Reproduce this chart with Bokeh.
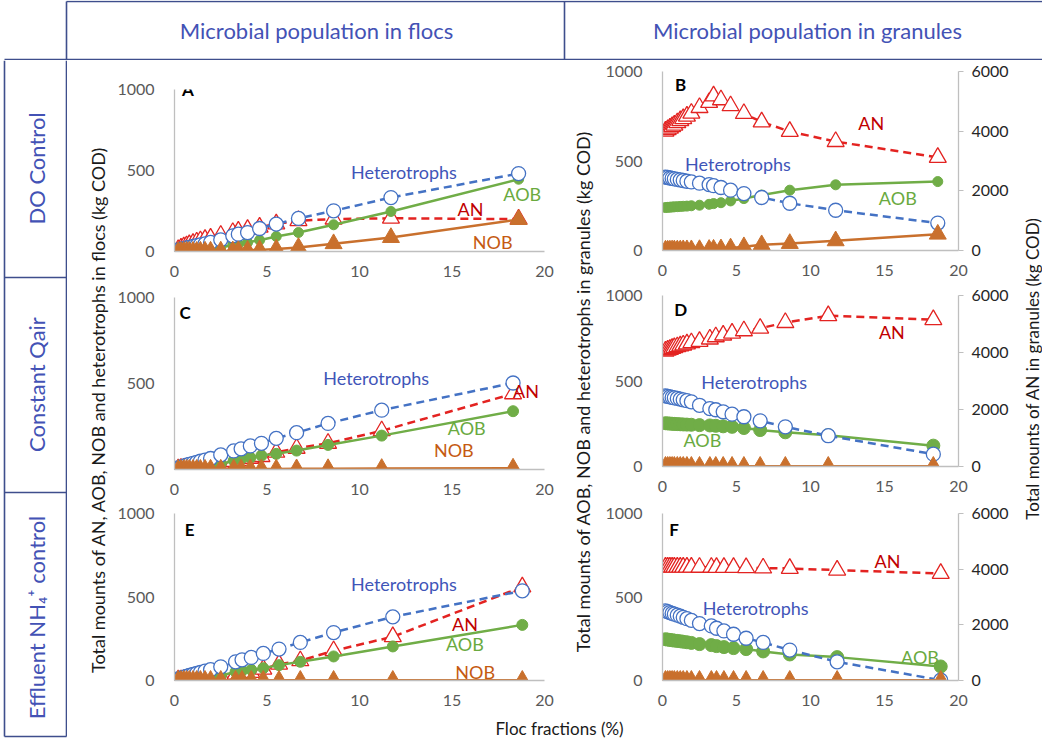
import math
from bokeh.plotting import figure
from bokeh.models import Range1d, LinearAxis, FixedTicker, Label
from bokeh.layouts import row, column
from bokeh.embed import file_html
from bokeh.resources import INLINE

# ---------------- data ----------------
x_do = [0.2, 0.35, 0.5, 0.65, 0.8, 1.0, 1.2, 1.4, 1.65, 1.95, 2.5, 3.15, 3.45, 3.95, 4.6, 5.5, 6.7, 8.6, 11.7, 18.6]
x_qa = [0.2, 0.35, 0.5, 0.65, 0.8, 1.0, 1.2, 1.4, 1.65, 1.95, 2.5, 3.2, 3.6, 4.1, 4.7, 5.5, 6.6, 8.3, 11.2, 18.3]
x_ef = [0.2, 0.35, 0.5, 0.65, 0.8, 1.0, 1.2, 1.4, 1.65, 1.95, 2.5, 3.3, 3.65, 4.15, 4.8, 5.65, 6.8, 8.6, 11.8, 18.8]

# A: flocs, DO control
het_floc_do = [10, 14, 18, 22, 26, 31, 36, 41, 47, 56, 72, 97, 107, 117, 142, 169, 204, 251, 333, 481]
aob_floc_do = [1, 2, 3, 4, 5, 6, 8, 10, 13, 17, 25, 40, 45, 56, 70, 93, 117, 165, 247, 446]
an_floc_do = [12, 20, 28, 35, 42, 50, 58, 66, 74, 82, 100, 117, 125, 136, 150, 170, 190, 200, 205, 200]
nob_floc_do = [0, 0, 1, 1, 1, 1, 1, 2, 2, 2, 3, 4, 5, 7, 10, 15, 25, 48, 86, 197]
# B: granules, DO control (AN on secondary axis)
het_gran_do = [410, 408, 405, 403, 400, 397, 394, 391, 387, 383, 376, 368, 362, 352, 337, 318, 296, 264, 225, 153]
aob_gran_do = [240, 241, 242, 243, 244, 245, 246, 247, 248, 250, 253, 258, 262, 267, 277, 290, 310, 337, 367, 385]
an_gran_do = [4000, 4050, 4100, 4150, 4200, 4280, 4350, 4420, 4500, 4600, 4790, 4960, 5180, 5050, 4850, 4590, 4310, 3990, 3650, 3120]
nob_gran_do = [2, 2, 2, 3, 3, 3, 3, 4, 4, 4, 5, 6, 7, 9, 14, 21, 32, 39, 54, 91]
# C: flocs, constant Qair
het_floc_qa = [10, 15, 20, 25, 30, 36, 42, 48, 55, 64, 85, 108, 120, 137, 152, 181, 214, 268, 345, 503]
aob_floc_qa = [2, 3, 4, 5, 6, 8, 10, 12, 15, 20, 31, 52, 61, 69, 81, 91, 110, 143, 197, 339]
an_floc_qa = [4, 6, 8, 10, 12, 14, 17, 20, 24, 28, 37, 46, 52, 65, 75, 100, 123, 152, 225, 440]
nob_floc_qa = [0, 0, 1, 1, 1, 1, 1, 1, 1, 2, 2, 2, 2, 3, 3, 3, 4, 5, 6, 8]
# D: granules, constant Qair
het_gran_qa = [413, 410, 407, 404, 401, 398, 394, 390, 385, 378, 358, 339, 332, 320, 306, 291, 267, 232, 180, 72]
aob_gran_qa = [253, 252, 251, 250, 249, 248, 247, 246, 245, 244, 242, 240, 238, 235, 232, 225, 213, 200, 183, 122]
an_gran_qa = [4050, 4080, 4110, 4140, 4170, 4200, 4230, 4260, 4300, 4340, 4390, 4470, 4550, 4610, 4680, 4760, 4850, 5050, 5290, 5150]
nob_gran_qa = [1, 1, 1, 1, 1, 1, 1, 1, 1, 1, 1, 1, 1, 1, 1, 1, 1, 1, 1, 1]
# E: flocs, effluent NH4+ control
het_floc_ef = [10, 15, 20, 25, 30, 36, 42, 48, 56, 65, 82, 112, 124, 138, 162, 188, 228, 287, 381, 537]
aob_floc_ef = [2, 3, 4, 5, 6, 8, 10, 12, 14, 18, 28, 52, 58, 64, 74, 92, 112, 144, 204, 333]
an_floc_ef = [3, 4, 5, 6, 8, 10, 12, 14, 17, 20, 28, 38, 44, 48, 68, 98, 118, 178, 262, 560]
nob_floc_ef = [1, 1, 1, 1, 1, 1, 1, 1, 1, 1, 1, 1, 1, 1, 1, 1, 1, 1, 1, 1]
# F: granules, effluent NH4+ control
het_gran_ef = [417, 412, 407, 402, 397, 391, 385, 378, 370, 360, 341, 327, 313, 297, 277, 253, 228, 182, 112, 2]
aob_gran_ef = [247, 245, 243, 241, 239, 237, 235, 232, 229, 225, 218, 212, 206, 200, 194, 188, 174, 156, 140, 84]
an_gran_ef = [4070, 4070, 4070, 4070, 4070, 4070, 4070, 4070, 4070, 4070, 4065, 4065, 4060, 4060, 4060, 4055, 4040, 4025, 3965, 3845]
nob_gran_ef = [1, 1, 1, 1, 1, 1, 1, 1, 1, 1, 1, 1, 1, 1, 1, 1, 1, 1, 1, 1]

x_ticks = [0, 5, 10, 15, 20]
y_ticks = [0, 500, 1000]
y2_ticks = [0, 2000, 4000, 6000]

col_titles = ["Microbial population in flocs", "Microbial population in granules"]
row_titles = ["DO Control", "Constant Qair", "Effluent NH\u2084\u207a control"]
ylab_floc = "Total mounts of AN, AOB, NOB and heterotrophs in flocs (kg COD)"
ylab_gran = "Total mounts of AOB, NOB and heterotrophs in granules (kg COD)"
ylab_an = "Total mounts of AN in granules (kg COD)"
xlab = "Floc fractions (%)"

# ---------------- styles ----------------
FONT = "Lato"
C_HET = "#4472C4"
C_AN = "#E32321"
C_AOB = "#70AD47"
C_NOB = "#C9702D"
T_HET = "#3F55B8"
T_AN = "#C00000"
T_AOB = "#6AAA3F"
T_NOB = "#C55A11"
BOX = "#3E4E8C"
TITLE = "#4352B5"
AX = "#BFBFBF"


def deco(w, h):
    p = figure(width=w, height=h, x_range=Range1d(0, w), y_range=Range1d(0, h),
               output_backend="svg", toolbar_location=None,
               x_axis_location=None, y_axis_location=None,
               min_border_left=0, min_border_right=0, min_border_top=0, min_border_bottom=0)
    p.grid.visible = False
    p.outline_line_color = None
    return p


def txt(p, x, y, s, size, color, angle=0.0, bold=False, align="center", **kw):
    p.add_layout(Label(x=x, y=y, text=s, text_font=FONT, text_font_size=size,
                       text_color=color, angle=angle, text_align=align,
                       text_baseline="middle",
                       text_font_style="bold" if bold else "normal", **kw))


def panel(w, h, borders, x, het, aob, an, nob, right, letter, lpos, labels, aob_size, extra=None):
    bl, br, bt, bb = borders
    p = figure(width=w, height=h, x_range=Range1d(0, 20), y_range=Range1d(0, 1000),
               output_backend="svg", toolbar_location=None,
               min_border_left=bl, min_border_right=br, min_border_top=bt, min_border_bottom=bb)
    p.grid.visible = False
    p.outline_line_color = None
    for ax in (p.xaxis, p.yaxis):
        ax.axis_line_color = AX
        ax.axis_line_width = 1.3
        ax.major_tick_line_color = None
        ax.minor_tick_line_color = None
        ax.major_label_text_font = FONT
        ax.major_label_text_font_size = "16px"
        ax.major_label_text_color = "#595959"
    p.xaxis.ticker = FixedTicker(ticks=x_ticks)
    p.yaxis.ticker = FixedTicker(ticks=y_ticks)
    p.xaxis.major_label_standoff = 8
    p.yaxis.major_label_standoff = 14
    an_kw = {}
    if right:
        p.extra_y_ranges = {"an": Range1d(0, 6000)}
        ax2 = LinearAxis(y_range_name="an", ticker=FixedTicker(ticks=y2_ticks))
        ax2.axis_line_color = AX
        ax2.axis_line_width = 1.3
        ax2.major_tick_line_color = AX
        ax2.major_tick_out = 5
        ax2.major_tick_in = 0
        ax2.minor_tick_line_color = None
        ax2.major_label_text_font = FONT
        ax2.major_label_text_font_size = "16px"
        ax2.major_label_text_color = "#262626"
        ax2.major_label_standoff = 8
        p.add_layout(ax2, "right")
        an_kw = {"y_range_name": "an"}
    # AN
    p.line(x, an, line_color=C_AN, line_width=2.5, line_dash="8 5", **an_kw)
    p.scatter(x, an, marker="triangle", size=17, fill_color="white", line_color=C_AN,
              line_width=1.3, **an_kw)
    # AOB
    p.line(x, aob, line_color=C_AOB, line_width=2.5)
    p.scatter(x, aob, marker="circle", size=aob_size, fill_color=C_AOB, line_color=C_AOB)
    # heterotrophs
    p.line(x, het, line_color=C_HET, line_width=2.5, line_dash="8 5")
    p.scatter(x, het, marker="circle", size=14, fill_color="white", line_color=C_HET,
              line_width=1.3)
    # NOB
    p.line(x, nob, line_color=C_NOB, line_width=2.5)
    p.scatter(x, nob, marker="triangle", size=17, fill_color=C_NOB, line_color=C_NOB)

    p.add_layout(Label(x=lpos[0], y=lpos[1], text=letter, text_font=FONT,
                       text_font_size="17px", text_font_style="bold", text_color="black",
                       text_align="left", text_baseline="alphabetic"))
    for (s, lx, ly), col in zip(labels, (T_HET, T_AN, T_AOB, T_NOB)):
        txt(p, lx, ly, s, "18px", col)
    if extra is not None:
        s, lx, ly, kw = extra
        txt(p, lx, ly, s, "18px", T_NOB, **kw)
    return p


# left panels: width 450, frame 375 ; right panels: width 415, frame 303
LB = (55, 20)
RB = (53, 59)
pA = panel(450, 221, (LB[0], LB[1], 29, 30), x_do, het_floc_do, aob_floc_do, an_floc_do, nob_floc_do,
           False, "A", (0.4, 1000),
           [("Heterotrophs", 12.4, 488), ("AN", 16.0, 261), ("AOB", 18.8, 354), ("NOB", 17.2, 60)], 10)
pB = panel(415, 221, (RB[0], RB[1], 11, 31), x_do, het_gran_do, aob_gran_do, an_gran_do, nob_gran_do,
           True, "B", (0.85, 927),
           [("Heterotrophs", 5.1, 482), ("AN", 14.1, 715), ("AOB", 15.9, 296)], 10,
           extra=("NOB", 16.75, 1000, {"y_offset": -186}))
pC = panel(450, 216, (LB[0], LB[1], 16, 27), x_qa, het_floc_qa, aob_floc_qa, an_floc_qa, nob_floc_qa,
           False, "C", (0.27, 913),
           [("Heterotrophs", 10.9, 532), ("AN", 19.0, 455), ("AOB", 15.8, 243), ("NOB", 15.1, 114)], 11)
pD = panel(415, 216, (RB[0], RB[1], 14, 31), x_qa, het_gran_qa, aob_gran_qa, an_gran_qa, nob_gran_qa,
           True, "D", (0.8, 918),
           [("Heterotrophs", 6.2, 495), ("AN", 15.5, 784), ("AOB", 2.7, 156)], 13,
           extra=("NOB", 254, -13, {"x_units": "screen", "y_units": "screen"}))
pE = panel(450, 219, (LB[0], LB[1], 16, 36), x_ef, het_floc_ef, aob_floc_ef, an_floc_ef, nob_floc_ef,
           False, "E", (0.55, 904),
           [("Heterotrophs", 12.4, 577), ("AN", 15.7, 341), ("AOB", 15.7, 217), ("NOB", 16.25, 48)], 11)
pF = panel(415, 219, (RB[0], RB[1], 16, 36), x_ef, het_gran_ef, aob_gran_ef, an_gran_ef, nob_gran_ef,
           True, "F", (0.45, 904),
           [("Heterotrophs", 6.3, 437), ("AN", 15.2, 717), ("AOB", 17.4, 142)], 13,
           extra=("NOB", 17.7, 0, {"y_range_name": "an", "y_offset": -22}))

# ---------------- decorations ----------------
header = deco(1042, 60)
header.segment(x0=[4, 66, 66, 564], y0=[1, 1, 59, 1], x1=[1042, 66, 1042, 564], y1=[1, 59, 59, 59],
               line_color=BOX, line_width=1.6)
txt(header, 316, 30, col_titles[0], "22px", TITLE)
txt(header, 807, 30, col_titles[1], "22px", TITLE)

side = deco(67, 678)
side.segment(x0=[4, 66, 4, 4, 4], y0=[2, 2, 461, 246, 2], x1=[4, 66, 66, 66, 66], y1=[678, 678, 461, 246, 2],
             line_color=BOX, line_width=1.6)
txt(side, 36, 570, row_titles[0], "22px", TITLE, angle=math.pi / 2)
txt(side, 36, 354, row_titles[1], "22px", TITLE, angle=math.pi / 2)
txt(side, 36, 121, row_titles[2], "22px", TITLE, angle=math.pi / 2)

lab1 = deco(47, 656)
txt(lab1, 30, 307, ylab_floc, "18px", "#1a1a1a", angle=math.pi / 2)
lab2 = deco(38, 656)
txt(lab2, 18, 325, ylab_gran, "18px", "#1a1a1a", angle=math.pi / 2)
lab3 = deco(25, 656)
txt(lab3, 15, 348, ylab_an, "17px", "#1a1a1a", angle=math.pi / 2)
bottom = deco(975, 22)
txt(bottom, 492, 10, xlab, "17px", "#1a1a1a")

left_col = column(pA, pC, pE, spacing=0)
right_col = column(pB, pD, pF, spacing=0)
panels = row(lab1, left_col, lab2, right_col, lab3, spacing=0)
body_right = column(panels, bottom, spacing=0)
body = row(side, body_right, spacing=0)
layout = column(header, body, spacing=0)

open("out.html", "w").write(file_html(layout, INLINE))
